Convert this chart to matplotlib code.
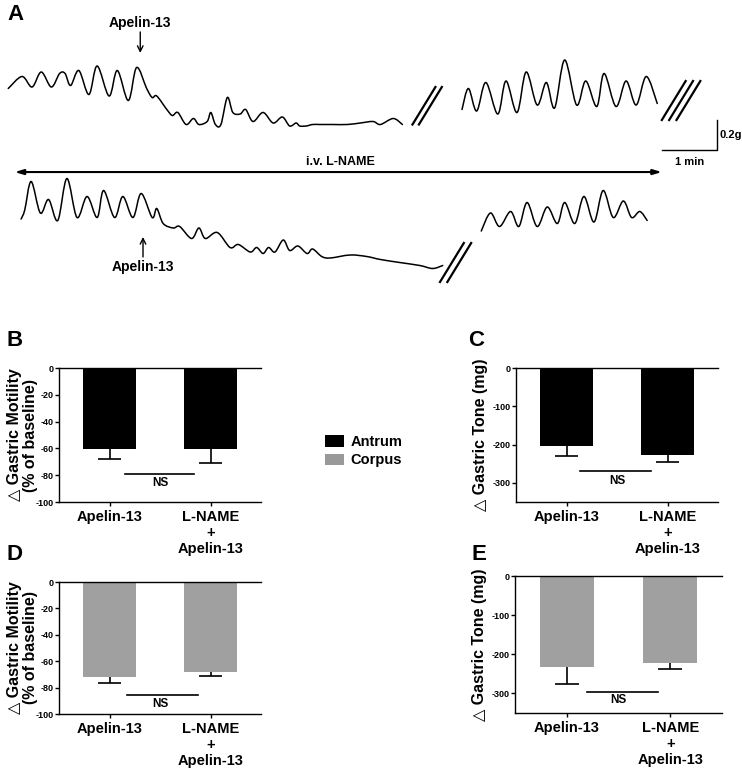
import matplotlib
matplotlib.use('Agg')
import matplotlib.pyplot as plt
from matplotlib.patches import Patch, PathPatch
from matplotlib.path import Path

plt.rcParams['font.family'] = ['Liberation Sans', 'DejaVu Sans']
plt.rcParams['font.weight'] = 'bold'
plt.rcParams['axes.labelweight'] = 'bold'
plt.rcParams['axes.unicode_minus'] = False

W, H = 742, 771  # figure size in pixels

# Panel A: force traces, time (s) and force (g)
# top trace, before apelin-13 / after
t1a = [9, 24, 35, 45, 56, 65, 71, 77, 86, 97, 106, 119, 128, 140, 149, 160, 166, 171, 182, 188,
       194, 203, 211, 217, 226, 230, 235, 241, 248, 254, 262, 268, 276, 287, 298, 308, 316, 323, 327, 334,
       341, 349, 363, 379, 393, 407, 415, 429, 439]
f1a = [1.41, 1.49, 1.42, 1.52, 1.42, 1.51, 1.51, 1.43, 1.53, 1.37, 1.56, 1.36, 1.53, 1.33, 1.55, 1.41, 1.35, 1.36, 1.27, 1.23,
       1.25, 1.17, 1.21, 1.17, 1.19, 1.25, 1.17, 1.17, 1.35, 1.25, 1.24, 1.27, 1.19, 1.25, 1.18, 1.22, 1.16, 1.18, 1.16, 1.16,
       1.17, 1.17, 1.17, 1.17, 1.18, 1.19, 1.17, 1.21, 1.17]
t1b = [504, 511, 520, 530, 543, 552, 564, 574, 586, 596, 605, 616, 629, 639, 651, 659, 672, 683, 694, 705, 717]
f1b = [1.27, 1.41, 1.26, 1.45, 1.24, 1.46, 1.25, 1.52, 1.30, 1.45, 1.28, 1.60, 1.30, 1.46, 1.29, 1.51, 1.29, 1.46, 1.30, 1.49, 1.31]

# bottom trace (i.v. L-NAME)
t2a = [23, 27, 34, 44, 53, 63, 73, 84, 95, 106, 113, 125, 134, 145, 154, 166, 171, 178, 189, 196,
       209, 217, 224, 237, 251, 260, 273, 280, 287, 293, 300, 309, 316, 325, 335, 341, 351, 360, 382, 400,
       415, 436, 458, 472, 483]
f2a = [0.54, 0.60, 0.79, 0.58, 0.67, 0.53, 0.81, 0.55, 0.69, 0.55, 0.73, 0.55, 0.69, 0.55, 0.71, 0.55, 0.61, 0.51, 0.48, 0.49,
       0.41, 0.48, 0.41, 0.45, 0.35, 0.37, 0.32, 0.35, 0.31, 0.35, 0.32, 0.40, 0.33, 0.36, 0.31, 0.34, 0.29, 0.28, 0.30, 0.29,
       0.27, 0.25, 0.23, 0.21, 0.23]
t2b = [525, 535, 545, 557, 566, 575, 586, 597, 608, 616, 627, 637, 648, 658, 669, 680, 689, 698, 706]
f2b = [0.46, 0.58, 0.49, 0.59, 0.49, 0.65, 0.49, 0.62, 0.51, 0.65, 0.51, 0.69, 0.52, 0.73, 0.55, 0.66, 0.55, 0.59, 0.53]

# break marks in the recording (t0, f0, t1, f1)
breaks = [(450, 1.17, 475, 1.42), (457, 1.17, 482, 1.42),
          (722, 1.20, 748, 1.46), (730, 1.20, 756, 1.46), (738, 1.20, 764, 1.46),
          (480, 0.12, 506, 0.38), (488, 0.12, 514, 0.38)]

# Panels B-E: change vs baseline, mean and SEM
groups = ['Apelin-13', 'L-NAME\n+\nApelin-13']
antrum_motility = [-60.5, -60.5]
antrum_motility_sem = [7.5, 10.3]
antrum_tone = [-204.5, -228]
antrum_tone_sem = [26, 18]
corpus_motility = [-72, -68.5]
corpus_motility_sem = [4.5, 2.5]
corpus_tone = [-232, -223]
corpus_tone_sem = [43, 14]

ANTRUM = 'black'
CORPUS = '#a0a0a0'


def px_rect(x0, y0, x1, y1):
    return [x0 / W, 1 - y1 / H, (x1 - x0) / W, (y1 - y0) / H]


def smooth_path(t, f):
    # Catmull-Rom curve through the read points, drawn as cubic Bezier segments
    verts = [(t[0], f[0])]
    codes = [Path.MOVETO]
    n = len(t)
    for i in range(n - 1):
        p0 = (t[max(i - 1, 0)], f[max(i - 1, 0)])
        p1 = (t[i], f[i])
        p2 = (t[i + 1], f[i + 1])
        p3 = (t[min(i + 2, n - 1)], f[min(i + 2, n - 1)])
        c1 = (p1[0] + (p2[0] - p0[0]) / 6, p1[1] + (p2[1] - p0[1]) / 6)
        c2 = (p2[0] - (p3[0] - p1[0]) / 6, p2[1] - (p3[1] - p1[1]) / 6)
        verts += [c1, c2, p2]
        codes += [Path.CURVE4] * 3
    return Path(verts, codes)


fig = plt.figure(figsize=(W / 100, H / 100), dpi=100)

# ---- panel A ----
ax_a = fig.add_axes(px_rect(0, 0, W, 300))
ax_a.set_xlim(0, W * 60 / 55)
ax_a.set_ylim(0, 2.0)
ax_a.axis('off')
for t, f in [(t1a, f1a), (t1b, f1b), (t2a, f2a), (t2b, f2b)]:
    ax_a.add_patch(PathPatch(smooth_path(t, f), fill=False, edgecolor='black', lw=1.1,
                             joinstyle='round', capstyle='round'))
for t0, f0, t1, f1 in breaks:
    ax_a.plot([t0, t1], [f0, f1], color='black', lw=1.6)

# scale bar 1 min / 0.2 g
ax_a.plot([722, 782, 782], [1.0, 1.0, 1.2], color='black', lw=1.0)
ax_a.text(785, 1.1, '0.2g', fontsize=8, ha='left', va='center')
ax_a.text(752, 0.92, '1 min', fontsize=8, ha='center', va='center')

# i.v. L-NAME period
ax_a.annotate('', xy=(16, 0.853), xytext=(722, 0.853),
              arrowprops=dict(arrowstyle='<|-|>,head_length=0.5,head_width=0.15', lw=1.5,
                              color='black', shrinkA=0, shrinkB=0))
ax_a.text(371, 0.92, 'i.v. L-NAME', fontsize=9, ha='center', va='center')

# apelin-13 injections
ax_a.annotate('', xy=(153, 1.647), xytext=(153, 1.787),
              arrowprops=dict(arrowstyle='->', lw=1.0, color='black', shrinkA=0, shrinkB=0))
ax_a.text(153, 1.85, 'Apelin-13', fontsize=10, ha='center', va='center')
ax_a.annotate('', xy=(156, 0.42), xytext=(156, 0.287),
              arrowprops=dict(arrowstyle='->', lw=1.0, color='black', shrinkA=0, shrinkB=0))
ax_a.text(156, 0.22, 'Apelin-13', fontsize=10, ha='center', va='center')


def bar_panel(rect, values, sem, color, ylim, yticks, ylabel, label_x, ns_y, ns_span, ns_text_y):
    ax = fig.add_axes(rect)
    x = [0, 1]
    low = [v - s for v, s in zip(values, sem)]
    ax.bar(x, values, width=0.52, color=color, zorder=2)
    ax.vlines(x, values, low, color='black', lw=1.2, zorder=3)
    ax.hlines(low, [xi - 0.115 for xi in x], [xi + 0.115 for xi in x], color='black', lw=1.2, zorder=3)
    ax.plot(ns_span, [ns_y, ns_y], color='black', lw=1.2)
    ax.text(0.5, ns_text_y, 'NS', fontsize=8.5, ha='center', va='center')
    ax.set_xlim(-0.5, 1.5)
    ax.set_ylim(*ylim)
    ax.set_xticks(x)
    ax.set_xticklabels(groups, fontsize=10.5, linespacing=1.15, fontweight='bold')
    ax.set_yticks(yticks)
    ax.set_yticklabels([str(v) for v in yticks], fontsize=6.5, fontweight='bold')
    ax.tick_params(axis='y', length=3, width=1, pad=1)
    ax.tick_params(axis='x', length=3, width=1, pad=3)
    ax.spines['right'].set_visible(False)
    for s in ['top', 'left', 'bottom']:
        ax.spines[s].set_linewidth(1.0)
    ax.set_ylabel(ylabel, fontsize=11.5, linespacing=1.1)
    ax.yaxis.set_label_coords(label_x, 0.5)
    return ax


mot_label = '\u25B3 Gastric Motility\n(% of baseline)'
tone_label = '\u25B3 Gastric Tone (mg)'

bar_panel(px_rect(59, 368, 261, 502), antrum_motility, antrum_motility_sem, ANTRUM,
          (-100, 0), [0, -20, -40, -60, -80, -100], mot_label, -0.105, -79, [0.15, 0.84], -85.5)
bar_panel(px_rect(516, 368, 718, 502), antrum_tone, antrum_tone_sem, ANTRUM,
          (-350, 0), [0, -100, -200, -300], tone_label, -0.14, -270, [0.13, 0.84], -294)
bar_panel(px_rect(59, 582, 261, 714), corpus_motility, corpus_motility_sem, CORPUS,
          (-100, 0), [0, -20, -40, -60, -80, -100], mot_label, -0.105, -85.5, [0.17, 0.88], -92.5)
bar_panel(px_rect(515, 576, 722, 713), corpus_tone, corpus_tone_sem, CORPUS,
          (-350, 0), [0, -100, -200, -300], tone_label, -0.135, -297, [0.2, 0.88], -318)

# legend
fig.legend(handles=[Patch(facecolor=ANTRUM), Patch(facecolor='#999999')], labels=['Antrum', 'Corpus'],
           loc='upper left', bbox_to_anchor=(325 / W, 1 - 435 / H), frameon=False,
           handlelength=1.3, handleheight=0.85, handletextpad=0.45, labelspacing=0.3,
           borderpad=0, borderaxespad=0, prop={'weight': 'bold', 'size': 10.5})

# panel letters
for letter, xp, yp in [('A', 16, 14), ('B', 15, 340), ('C', 476, 340), ('D', 15, 555), ('E', 479, 555)]:
    fig.text(xp / W, 1 - yp / H, letter, fontsize=16, ha='center', va='center')

fig.savefig('out.png', dpi=100)
